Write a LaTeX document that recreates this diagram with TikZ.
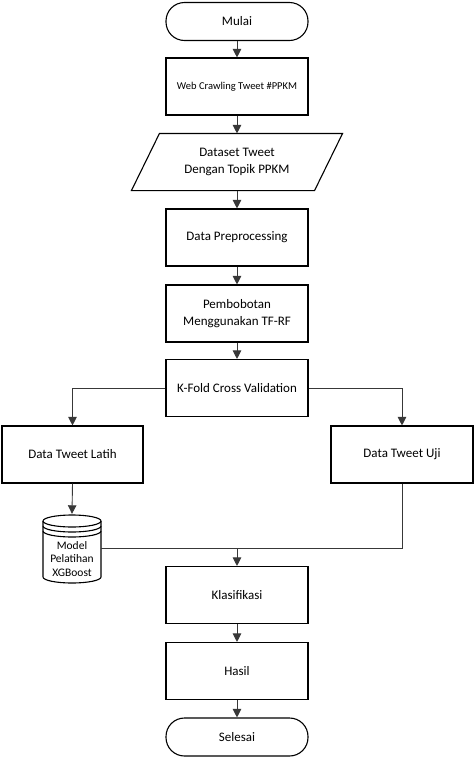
\documentclass[tikz,border=0pt]{standalone}
\usepackage{fontspec}
\setmainfont{Carlito}
\usetikzlibrary{arrows.meta}
\begin{document}
\begin{tikzpicture}[x=1pt,y=-1pt,
  box/.style={draw=black,line width=1.1pt,minimum width=142pt,minimum height=57pt,inner sep=2pt,align=center,font=\fontsize{13}{17}\selectfont},
  term/.style={box,minimum height=38pt,rounded corners=18.5pt},
  conn/.style={draw=black!78,line width=0.9pt},
  arr/.style={conn,-{Triangle[length=8.5pt,width=8.5pt]}},
  cyl/.style={draw=black,line width=1.1pt}
]
\useasboundingbox (0,0) rectangle (474,758);

\node[term] (start) at (237,21.5) {Mulai};
\node[box,font=\fontsize{10.5}{13}\selectfont] (crawl) at (237,86.5) {Web Crawling Tweet \#PPKM};
\node[box,draw=none,minimum width=182pt,minimum height=56pt] (ds) at (237,162) {Dataset Tweet\\Dengan Topik PPKM};
\draw[cyl] ([xshift=-14pt]ds.south west) -- ([xshift=14pt]ds.north west) -- ([xshift=14pt]ds.north east) -- ([xshift=-14pt]ds.south east) -- cycle;
\node[box] (prep) at (237,237.5) {Data Preprocessing};
\node[box] (bobot) at (237,313.5) {Pembobotan\\Menggunakan TF-RF};
\node[box] (kfold) at (237,388) {K-Fold Cross Validation};
\node[box,minimum width=141pt] (latih) at (72.5,454.5) {Data Tweet Latih};
\node[box] (uji) at (402,454.5) {Data Tweet Uji};
\node[box] (klas) at (237,595) {Klasifikasi};
\node[box] (hasil) at (237,671) {Hasil};
\node[term] (end) at (237,737) {Selesai};

% database cylinder
\node[minimum width=58pt,minimum height=68pt,inner sep=0pt] (model) at (72,548) {};
\draw[cyl] (43,521) -- (43,577) arc[start angle=180,end angle=360,x radius=29pt,y radius=6pt] -- (101,521);
\draw[cyl] (72,521) ellipse [x radius=29pt,y radius=6pt];
\draw[cyl] (43,526) arc[start angle=180,end angle=360,x radius=29pt,y radius=6pt];
\draw[cyl] (43,531) arc[start angle=180,end angle=360,x radius=29pt,y radius=6pt];
\node[align=center,inner sep=0pt,font=\fontsize{11.5}{13.5}\selectfont] (modeltxt) at (72,559) {Model\\Pelatihan\\XGBoost};

\coordinate (j) at (237,548);

\draw[arr] (start) -- (crawl);
\draw[arr] (crawl) -- (ds);
\draw[arr] (ds) -- (prep);
\draw[arr] (prep) -- (bobot);
\draw[arr] (bobot) -- (kfold);
\draw[arr] (kfold.west) -| (latih.north);
\draw[arr] (kfold.east) -| (uji.north);
\draw[arr] (latih.south) -- (model.north);
\draw[conn] (model.east) -- (j);
\draw[conn] (uji.south) |- (j);
\draw[arr] (j) -- (klas.north);
\draw[arr] (klas) -- (hasil);
\draw[arr] (hasil) -- (end);
\end{tikzpicture}
\end{document}
